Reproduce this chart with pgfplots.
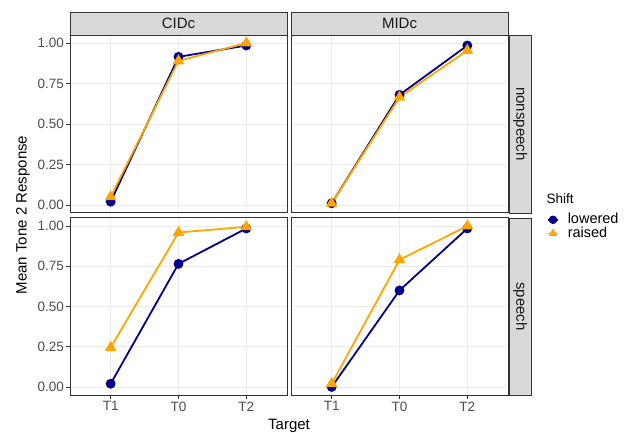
\documentclass[border=0pt]{standalone}
\usepackage{pgfplots}
\pgfplotsset{compat=1.18}
\usepackage{fontspec}
\setmainfont{Liberation Sans}
\definecolor{lowc}{HTML}{00008B}
\definecolor{raic}{HTML}{FFA500}
\definecolor{gridc}{HTML}{EBEBEB}
\definecolor{gray20}{HTML}{333333}
\definecolor{gray30}{HTML}{4D4D4D}
\definecolor{stripc}{HTML}{D9D9D9}
\newcommand{\tickfont}{\fontsize{13.5bp}{15bp}\selectfont}
\newcommand{\titlefont}{\fontsize{15bp}{17bp}\selectfont}
\newcommand{\legfont}{\fontsize{14.5bp}{17bp}\selectfont}
\newcommand{\legtitlefont}{\fontsize{13.5bp}{15bp}\selectfont}
\pgfplotsset{
  panel/.style={
    scale only axis, width=217bp, clip=false,
    xmin=0.4, xmax=3.6, ymin=-0.05, ymax=1.05,
    xtick={1,2,3}, ytick={0,0.25,0.5,0.75,1},
    xticklabels={T1,T0,T2},
    yticklabels={0.00,0.25,0.50,0.75,1.00},
    grid=major, major grid style={gridc, line width=0.6bp},
    axis line style={gray20, line width=1bp},
    tick align=outside, major tick length=4bp,
    tick style={gray20, line width=0.8bp},
    xtick pos=bottom, ytick pos=left,
    ticklabel style={font=\tickfont, text=gray30},
    xticklabel style={inner sep=2.5bp},
    yticklabel style={inner sep=2bp},
  },
  lowered/.style={lowc, line width=1.8bp, mark=*, mark size=4bp, mark options={solid, fill=lowc, draw=lowc}},
  raised/.style={raic, line width=1.8bp, mark=triangle*, mark size=5bp, mark options={solid, fill=raic, draw=raic}},
  noxt/.style={xticklabels={}, xtick style={draw=none}},
  noyt/.style={yticklabels={}, ytick style={draw=none}},
}
\newcommand{\topstrip}[1]{\draw[fill=stripc, draw=gray20, line width=0.5bp] (rel axis cs:0,1) rectangle ([yshift=22.5bp]rel axis cs:1,1);
  \node[font=\titlefont, text=black!90] at ([yshift=11.25bp]rel axis cs:0.5,1) {#1};}
\newcommand{\rightstrip}[1]{\draw[fill=stripc, draw=gray20, line width=0.5bp] ([xshift=1bp]rel axis cs:1,0) rectangle ([xshift=23.5bp]rel axis cs:1,1);
  \node[font=\titlefont, text=black!90, rotate=-90] at ([xshift=12.25bp]rel axis cs:1,0.5) {#1};}
\begin{document}
\begin{tikzpicture}
\useasboundingbox (0,0) rectangle (630bp,433bp);
% top-left: CIDc nonspeech
\begin{axis}[panel, noxt, height=178bp, at={(70bp,220bp)}, anchor=south west]
\addplot[lowered] coordinates {(1,0.02) (2,0.915) (3,0.985)};
\addplot[raised] coordinates {(1,0.05) (2,0.89) (3,1.00)};
\topstrip{CIDc}
\end{axis}
% top-right: MIDc nonspeech
\begin{axis}[panel, noxt, noyt, height=178bp, at={(291bp,220bp)}, anchor=south west]
\addplot[lowered] coordinates {(1,0.01) (2,0.68) (3,0.985)};
\addplot[raised] coordinates {(1,0.01) (2,0.665) (3,0.955)};
\topstrip{MIDc}
\rightstrip{nonspeech}
\end{axis}
% bottom-left: CIDc speech
\begin{axis}[panel, height=177bp, at={(70bp,38bp)}, anchor=south west]
\addplot[lowered] coordinates {(1,0.02) (2,0.765) (3,0.985)};
\addplot[raised] coordinates {(1,0.245) (2,0.96) (3,0.995)};
\end{axis}
% bottom-right: MIDc speech
\begin{axis}[panel, noyt, height=177bp, at={(291bp,38bp)}, anchor=south west,
  legend style={at={(1.18,1.029)}, anchor=north west, draw=none, fill=none,
    inner sep=0pt, row sep=0pt, font=\legfont, cells={anchor=west},
    nodes={inner xsep=0bp, inner ysep=0.5bp, text height=10bp, text depth=2.5bp},
    /tikz/every odd column/.append style={column sep=9bp}},
  legend image code/.code={\draw[#1, line width=1.5bp, mark size=3.5bp, mark repeat=2, mark phase=2] plot coordinates {(0bp,0bp) (5bp,0bp) (10bp,0bp)};},
  legend cell align=left]
\addplot[lowered] coordinates {(1,0.00) (2,0.60) (3,0.985)};
\addlegendentry{lowered}
\addplot[raised] coordinates {(1,0.02) (2,0.79) (3,1.00)};
\addlegendentry{raised}
\rightstrip{speech}
\end{axis}
\node[font=\legtitlefont, anchor=west, inner sep=0pt] at (546.5bp,234.7bp) {Shift};
\node[font=\titlefont, rotate=90] at (23bp,218bp) {Mean Tone 2 Response};
\node[font=\titlefont] at (289bp,7.5bp) {Target};
\end{tikzpicture}
\end{document}
